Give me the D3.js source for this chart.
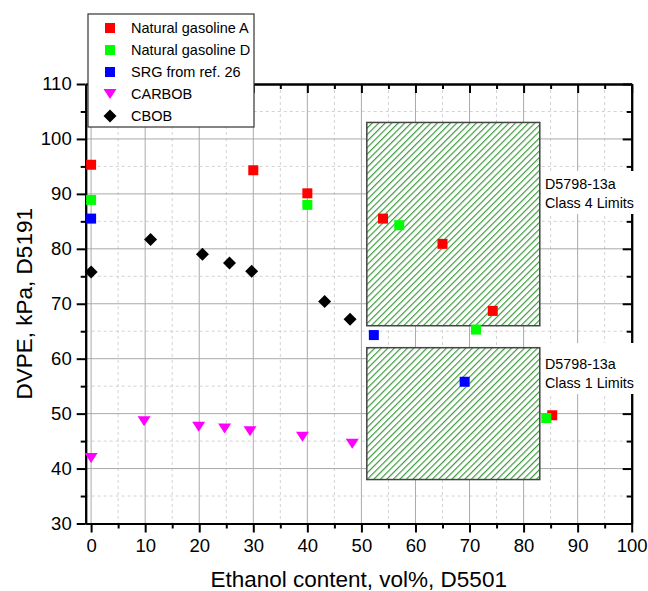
<!DOCTYPE html>
<html>
<head>
<meta charset="utf-8">
<script src="https://cdn.jsdelivr.net/npm/d3@7"></script>
<style>
  html, body { margin: 0; padding: 0; background: #fff; }
  svg { display: block; font-family: "Liberation Sans", Arial, Helvetica, sans-serif; }
</style>
</head>
<body>
<svg id="chart" width="648" height="591"></svg>
<script>
// ---- Data ----
const natA_x = [0, 30, 40, 54, 65, 74.3, 85.3];
const natA_y = [95.3, 94.3, 90.1, 85.5, 80.9, 68.7, 49.7];
const natD_x = [0, 40, 57, 71.2, 84.2];
const natD_y = [88.9, 88.0, 84.3, 65.3, 49.2];
const srg_x = [0, 52.3, 69.1];
const srg_y = [85.5, 64.3, 55.8];
const carbob_x = [0, 9.8, 19.9, 24.7, 29.4, 39.1, 48.3];
const carbob_y = [41.9, 48.6, 47.6, 47.3, 46.8, 45.8, 44.5];
const cbob_x = [0, 11, 20.6, 25.6, 29.7, 43.2, 47.9];
const cbob_y = [75.8, 81.7, 79.0, 77.4, 75.9, 70.4, 67.2];
const seriesNames = ["Natural gasoline A", "Natural gasoline D", "SRG from ref. 26", "CARBOB", "CBOB"];
const seriesColors = ["#ff0000", "#00ff00", "#0000ff", "#ff00ff", "#000000"];
const seriesShapes = ["square", "square", "square", "triangle", "diamond"];
// limit boxes
const limitNames = [["D5798-13a", "Class 4 Limits"], ["D5798-13a", "Class 1 Limits"]];
const limitX0 = [51, 51];
const limitX1 = [83, 83];
const limitY0 = [66, 38];
const limitY1 = [103, 62];
const xTicks = [0, 10, 20, 30, 40, 50, 60, 70, 80, 90, 100];
const xMinor = [5, 15, 25, 35, 45, 55, 65, 75, 85, 95];
const yTicks = [30, 40, 50, 60, 70, 80, 90, 100, 110];
const yMinor = [35, 45, 55, 65, 75, 85, 95, 105];

const svg = d3.select("#chart");
const L = 85.7, R = 631.7, T = 84, B = 523.5;
const x = d3.scaleLinear().domain([-1, 100]).range([L, R]);
const y = d3.scaleLinear().domain([30, 110]).range([B, T]);

// hatch pattern
const defs = svg.append("defs");
const pat = defs.append("pattern").attr("id", "hatch")
  .attr("patternUnits", "userSpaceOnUse").attr("width", 4.6).attr("height", 4.6)
  .attr("patternTransform", "rotate(45)");
pat.append("rect").attr("width", 4.6).attr("height", 4.6).attr("fill", "#fff");
pat.append("line").attr("x1", 0.6).attr("y1", 0).attr("x2", 0.6).attr("y2", 4.6)
  .attr("stroke", "#379637").attr("stroke-width", 1.15);

// grid
const grid = svg.append("g");
grid.selectAll(".gxm").data(xMinor).join("line")
  .attr("x1", d => x(d)).attr("x2", d => x(d)).attr("y1", T).attr("y2", B)
  .attr("stroke", "#d2d2d2").attr("stroke-dasharray", "3,3").attr("stroke-width", 1);
grid.selectAll(".gym").data(yMinor).join("line")
  .attr("y1", d => y(d)).attr("y2", d => y(d)).attr("x1", L).attr("x2", R)
  .attr("stroke", "#d2d2d2").attr("stroke-dasharray", "3,3").attr("stroke-width", 1);
grid.selectAll(".gx").data(xTicks.slice(0, -1)).join("line")
  .attr("x1", d => x(d)).attr("x2", d => x(d)).attr("y1", T).attr("y2", B)
  .attr("stroke", "#aaaaaa").attr("stroke-width", 1);
grid.selectAll(".gy").data(yTicks.slice(1, -1)).join("line")
  .attr("y1", d => y(d)).attr("y2", d => y(d)).attr("x1", L).attr("x2", R)
  .attr("stroke", "#aaaaaa").attr("stroke-width", 1);

// limit boxes
svg.append("g").selectAll("rect").data(limitX0).join("rect")
  .attr("x", (d, i) => x(limitX0[i]))
  .attr("y", (d, i) => y(limitY1[i]))
  .attr("width", (d, i) => x(limitX1[i]) - x(limitX0[i]))
  .attr("height", (d, i) => y(limitY0[i]) - y(limitY1[i]))
  .attr("fill", "url(#hatch)").attr("stroke", "#444").attr("stroke-width", 1.5);

// axes
function styleAxis(g) {
  g.selectAll(".domain").attr("stroke", "#000").attr("stroke-width", 2);
  g.selectAll(".tick line").attr("stroke", "#000").attr("stroke-width", 2);
  g.selectAll("text").attr("font-size", "18.5px").attr("fill", "#000")
    .attr("font-family", "'Liberation Sans', Arial, sans-serif");
}
const minorLen = 5, majorLen = 9;
svg.append("g").attr("transform", `translate(0,${B})`)
  .call(d3.axisBottom(x).tickValues(xMinor).tickSize(minorLen).tickSizeOuter(0).tickFormat(""))
  .call(styleAxis);
svg.append("g").attr("transform", `translate(${L},0)`)
  .call(d3.axisLeft(y).tickValues(yMinor).tickSize(minorLen).tickSizeOuter(0).tickFormat(""))
  .call(styleAxis);
svg.append("g").attr("transform", `translate(0,${T})`)
  .call(d3.axisTop(x).tickValues(xMinor).tickSize(-minorLen).tickSizeOuter(0).tickFormat(""))
  .call(styleAxis);
svg.append("g").attr("transform", `translate(${R},0)`)
  .call(d3.axisRight(y).tickValues(yMinor).tickSize(-minorLen).tickSizeOuter(0).tickFormat(""))
  .call(styleAxis);
svg.append("g").attr("transform", `translate(0,${B})`)
  .call(d3.axisBottom(x).tickValues(xTicks).tickSize(majorLen).tickSizeOuter(0).tickPadding(6).tickFormat(d3.format("d")))
  .call(styleAxis);
svg.append("g").attr("transform", `translate(${L},0)`)
  .call(d3.axisLeft(y).tickValues(yTicks).tickSize(majorLen).tickSizeOuter(0).tickPadding(5).tickFormat(d3.format("d")))
  .call(styleAxis);
svg.append("g").attr("transform", `translate(0,${T})`)
  .call(d3.axisTop(x).tickValues(xTicks).tickSize(-majorLen).tickSizeOuter(0).tickFormat(""))
  .call(styleAxis);
svg.append("g").attr("transform", `translate(${R},0)`)
  .call(d3.axisRight(y).tickValues(yTicks).tickSize(-majorLen).tickSizeOuter(0).tickFormat(""))
  .call(styleAxis);

// axis titles
svg.append("text").attr("x", (L + R) / 2).attr("y", 587).attr("text-anchor", "middle")
  .attr("font-size", "22.5px").text("Ethanol content, vol%, D5501");
svg.append("text").attr("transform", `translate(32,${(T + B) / 2}) rotate(-90)`)
  .attr("text-anchor", "middle").attr("font-size", "22.5px").text("DVPE, kPa, D5191");

// markers
function shapePath(shape) {
  if (shape === "square") return "M-5,-5H5V5H-5Z";
  if (shape === "diamond") return "M0,-6.5L6.5,0L0,6.5L-6.5,0Z";
  return "M-6.5,-5L6.5,-5L0,5Z";
}
const seriesX = [natA_x, natD_x, srg_x, carbob_x, cbob_x];
const seriesY = [natA_y, natD_y, srg_y, carbob_y, cbob_y];
const pts = svg.append("g");
seriesX.forEach((xs, si) => {
  pts.append("g").selectAll("path").data(xs).join("path")
    .attr("d", shapePath(seriesShapes[si]))
    .attr("transform", (d, i) => `translate(${x(d)},${y(seriesY[si][i])})`)
    .attr("fill", seriesColors[si]);
});

// limit labels with white background
const lblTop = [171, 343];
const lblBase = [189, 369];
limitNames.forEach((lines, i) => {
  const g = svg.append("g");
  g.append("rect").attr("x", 541).attr("y", lblTop[i]).attr("width", 96).attr("height", lblBase[i] - lblTop[i] + 25)
    .attr("fill", "#fff");
  lines.forEach((t, j) => {
    g.append("text").attr("x", 545).attr("y", lblBase[i] + j * 18.5)
      .attr("font-size", "14.3px").attr("fill", "#000").text(t);
  });
});

// legend
const lg = svg.append("g");
lg.append("rect").attr("x", 88).attr("y", 14).attr("width", 166).attr("height", 113)
  .attr("fill", "#fff").attr("stroke", "#333").attr("stroke-width", 1.2);
seriesNames.forEach((name, i) => {
  const cy = 28 + i * 22;
  lg.append("path").attr("d", shapePath(seriesShapes[i]))
    .attr("transform", `translate(110,${cy})`).attr("fill", seriesColors[i]);
  lg.append("text").attr("x", 131).attr("y", cy + 5.3).attr("font-size", "14.5px")
    .attr("fill", "#000").text(name);
});
</script>
</body>
</html>
